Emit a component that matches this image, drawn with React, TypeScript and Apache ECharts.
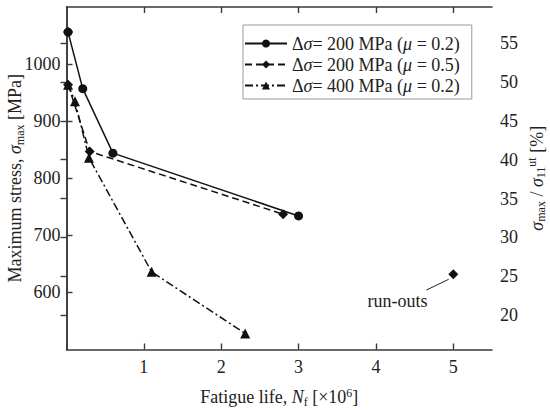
import React, { useEffect, useRef } from "react";
import * as echarts from "echarts";

const legendNames = [
  "Δ{i|σ}= 200 MPa ({i|μ} = 0.2)",
  "Δ{i|σ}= 200 MPa ({i|μ} = 0.5)",
  "Δ{i|σ}= 400 MPa ({i|μ} = 0.2)",
];
const circleData = [[0.02, 1056], [0.21, 957], [0.6, 844], [3.0, 734]];
const diamondData = [[0.02, 964], [0.3, 847], [2.8, 737]];
const triangleData = [[0.02, 964], [0.11, 935], [0.29, 836], [1.1, 636], [2.31, 528]];
const extraDiamonds = [[0.02, 1056], [5.0, 632]];
const xTicks = [1, 2, 3, 4, 5];
const leftTicks = [600, 700, 800, 900, 1000];
const rightTicks = [20, 25, 30, 35, 40, 45, 50, 55];
const runoutLabelPos = [[4.28, 585]];
const runoutLeader = [[4.65, 604], [4.94, 623]];

const FONT = "'Liberation Serif', 'Times New Roman', serif";
const TXT = "#222";
const AX = "#3a3a3a";
const FS = 18;

const rich = {
  i: { fontStyle: "italic", fontFamily: FONT, fontSize: FS, color: TXT, lineHeight: 21 },
  n: { fontFamily: FONT, fontSize: FS, color: TXT, lineHeight: 21 },
  sub: { fontFamily: FONT, fontSize: 12, color: TXT, lineHeight: 12, verticalAlign: "bottom" },
  sup: { fontFamily: FONT, fontSize: 12, color: TXT, lineHeight: 12, verticalAlign: "top" },
};

export default function App() {
  const ref = useRef<HTMLDivElement>(null);
  useEffect(() => {
    document.body.style.margin = "0";
    const chart = echarts.init(ref.current!, null, { renderer: "svg" });
    const axisLine = { show: true, lineStyle: { color: AX, width: 1.6 } };
    const tick = (vals: number[]) => ({ show: true, inside: true, length: 6, lineStyle: { color: AX, width: 1.4 }, customValues: vals });
    const fmt = (v: number) => String(v);
    const lineSeries = (name: string, data: number[][], symbol: string, size: number, type: any) => ({
      name,
      type: "line",
      data,
      symbol,
      symbolSize: size,
      showSymbol: true,
      itemStyle: { color: "#111", opacity: 1 },
      lineStyle: { color: "#111", width: 1.5, type },
      xAxisIndex: 0,
      yAxisIndex: 0,
      z: 3,
    });
    chart.setOption({
      animation: false,
      backgroundColor: "#fff",
      textStyle: { fontFamily: FONT },
      grid: { left: 66.5, right: 58, top: 7, bottom: 62.5, containLabel: false, outerBoundsMode: "none" },
      legend: {
        data: legendNames,
        orient: "vertical",
        left: 243,
        top: 25,
        backgroundColor: "#fff",
        borderColor: "#999",
        borderWidth: 1,
        padding: [8, 12, 3, 1],
        itemGap: 0,
        itemWidth: 42,
        itemHeight: 10,
        textStyle: { fontFamily: FONT, fontSize: FS, color: TXT, lineHeight: 21, rich },
      },
      xAxis: [
        {
          type: "value",
          min: 0,
          max: 5.5,
          position: "bottom",
          axisLine,
          axisTick: tick(xTicks),
          axisLabel: { customValues: xTicks, formatter: fmt, fontFamily: FONT, fontSize: FS, color: TXT, margin: 8 },
          splitLine: { show: false },
          name: "{n|Fatigue life, }{i|N}{sub|f}{n| [×10}{sup|6}{n|]}",
          nameLocation: "middle",
          nameGap: 37,
          nameMoveOverlap: false,
          nameTextStyle: { rich },
        },
        {
          type: "value",
          min: 0,
          max: 5.5,
          position: "top",
          axisLine,
          axisTick: tick(xTicks),
          axisLabel: { show: false },
          splitLine: { show: false },
        },
      ],
      yAxis: [
        {
          type: "value",
          min: 500,
          max: 1100,
          position: "left",
          axisLine,
          axisTick: tick(leftTicks),
          axisLabel: { customValues: leftTicks, formatter: fmt, fontFamily: FONT, fontSize: FS, color: TXT, margin: 6 },
          splitLine: { show: false },
          name: "{n|Maximum stress, }{i|σ}{sub|max}{n| [MPa]}",
          nameLocation: "middle",
          nameRotate: 90,
          nameGap: 41,
          nameMoveOverlap: false,
          nameTextStyle: { rich },
        },
        {
          type: "value",
          min: 15.55,
          max: 59.68,
          position: "right",
          axisLine,
          axisTick: tick(rightTicks),
          axisLabel: { customValues: rightTicks, formatter: fmt, fontFamily: FONT, fontSize: FS, color: TXT, margin: 8 },
          splitLine: { show: false },
          name: "{i|σ}{sub|max}{n| / }{i|σ}{sub|11}{sup|ut}{n| [%]}",
          nameLocation: "middle",
          nameRotate: 90,
          nameGap: 34,
          nameMoveOverlap: false,
          nameTextStyle: { rich },
        },
      ],
      series: [
        lineSeries(legendNames[0], circleData, "circle", 9, "solid"),
        lineSeries(legendNames[1], diamondData, "diamond", 10, [7, 4]),
        lineSeries(legendNames[2], triangleData, "triangle", 10, [8, 3, 2, 3]),
        {
          name: "extra",
          type: "scatter",
          data: extraDiamonds,
          symbol: "diamond",
          symbolSize: 10,
          itemStyle: { color: "#111", opacity: 1 },
          z: 4,
        },
        {
          name: "leader",
          type: "line",
          data: runoutLeader,
          symbol: "none",
          lineStyle: { color: "#222", width: 1 },
        },
        {
          name: "runout",
          type: "scatter",
          data: runoutLabelPos,
          symbol: "circle",
          symbolSize: 2,
          itemStyle: { color: "rgba(0,0,0,0)", opacity: 1 },
          label: {
            show: true,
            position: "inside",
            formatter: "run-outs",
            fontFamily: FONT,
            fontSize: FS,
            color: TXT,
          },
        },
      ],
    });
    return () => chart.dispose();
  }, []);
  return <div ref={ref} style={{ width: 550, height: 412 }} />;
}
